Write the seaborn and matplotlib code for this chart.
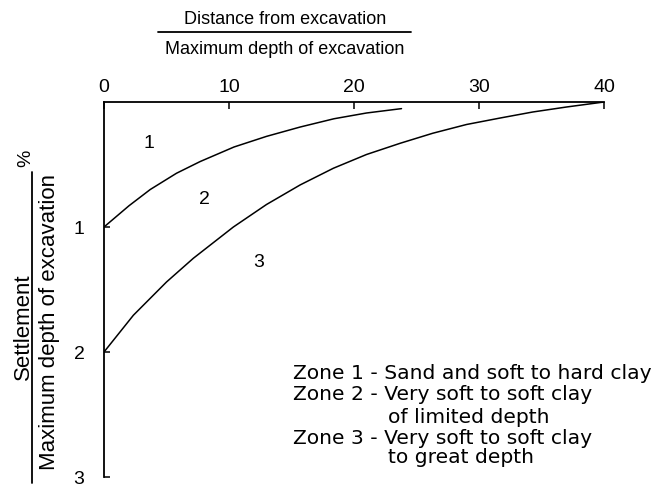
import matplotlib
matplotlib.use('Agg')
import matplotlib.pyplot as plt
import seaborn as sns
import pandas as pd
from matplotlib.lines import Line2D

# curve readings (distance ratio, settlement %)
zone1_x = [0, 2.0, 3.7, 5.8, 7.7, 10.4, 13.0, 15.7, 18.4, 21.0, 23.8]
zone1_y = [1.0, 0.83, 0.70, 0.57, 0.476, 0.36, 0.275, 0.20, 0.134, 0.088, 0.053]
zone2_x = [0, 2.35, 5.0, 7.15, 10.35, 13.0, 15.7, 18.35, 21.0, 23.7, 26.3, 29.0, 31.7, 34.3, 37.0, 40]
zone2_y = [2.0, 1.706, 1.44, 1.25, 1.0, 0.82, 0.663, 0.53, 0.42, 0.33, 0.25, 0.18, 0.128, 0.08, 0.04, 0.0]

zone_labels = ['1', '2', '3']
zone_label_x = [3.6, 8.0, 12.4]
zone_label_y = [0.33, 0.78, 1.28]

x_ticks = [0, 10, 20, 30, 40]
y_ticks = [1, 2, 3]

notes = [
    ('Zone 1 - Sand and soft to hard clay', False),
    ('Zone 2 - Very soft to soft clay', False),
    ('of limited depth', True),
    ('Zone 3 - Very soft to soft clay', False),
    ('to great depth', True),
]

sns.set_style('white')
plt.rcParams['font.family'] = ['Liberation Sans', 'DejaVu Sans']
plt.rcParams['text.color'] = 'black'
plt.rcParams['xtick.color'] = 'black'
plt.rcParams['ytick.color'] = 'black'

df = pd.concat([
    pd.DataFrame({'x': zone1_x, 'y': zone1_y, 'curve': 'a'}),
    pd.DataFrame({'x': zone2_x, 'y': zone2_y, 'curve': 'b'}),
])

fig = plt.figure(figsize=(6.55, 4.86), dpi=100)
ax = fig.add_axes([104 / 655, 1 - 477 / 486, 500 / 655, 375 / 486])

sns.lineplot(data=df, x='x', y='y', units='curve', estimator=None, sort=False,
             color='black', linewidth=1.1, ax=ax)

ax.set_xlim(0, 40)
ax.set_ylim(3, 0)
ax.xaxis.tick_top()
ax.set_xticks(x_ticks)
ax.set_yticks(y_ticks)
ax.tick_params(axis='x', direction='in', length=5, width=1.1, labelsize=14, pad=4, top=True, bottom=False)
ax.tick_params(axis='y', direction='in', length=4, width=1.1, labelsize=14, pad=14, left=True)
ax.set_xlabel('')
ax.set_ylabel('')
for s in ['right', 'bottom']:
    ax.spines[s].set_visible(False)
for s in ['top', 'left']:
    ax.spines[s].set_linewidth(1.3)
    ax.spines[s].set_color('black')

for lab, lx, ly in zip(zone_labels, zone_label_x, zone_label_y):
    ax.text(lx, ly, lab, fontsize=14, ha='center', va='center')

# zone descriptions
line_y = [0.277, 0.219, 0.160, 0.104, 0.051]
for (txt, indent), yy in zip(notes, line_y):
    ax.text(0.568 if indent else 0.378, yy, txt, transform=ax.transAxes,
            fontsize=14.6, family='DejaVu Sans', ha='left', va='center')

# fraction-style axis titles
fig.text(285 / 655, 1 - 20 / 486, 'Distance from excavation', fontsize=13, ha='center', va='center')
fig.add_artist(Line2D([158 / 655, 411 / 655], [1 - 32 / 486, 1 - 32 / 486], color='black', lw=1.3))
fig.text(285 / 655, 1 - 49 / 486, 'Maximum depth of excavation', fontsize=13, ha='center', va='center')

fig.text(23 / 655, 1 - 327 / 486, 'Settlement', fontsize=16, rotation=90, ha='center', va='center')
fig.add_artist(Line2D([32 / 655, 32 / 655], [1 - 172 / 486, 1 - 483 / 486], color='black', lw=1.3))
fig.text(50 / 655, 1 - 322 / 486, 'Maximum depth of excavation', fontsize=16, rotation=90, ha='center', va='center')
fig.text(26 / 655, 1 - 158 / 486, '%', fontsize=14, rotation=90, ha='center', va='center')

fig.savefig('out.png', dpi=100)
